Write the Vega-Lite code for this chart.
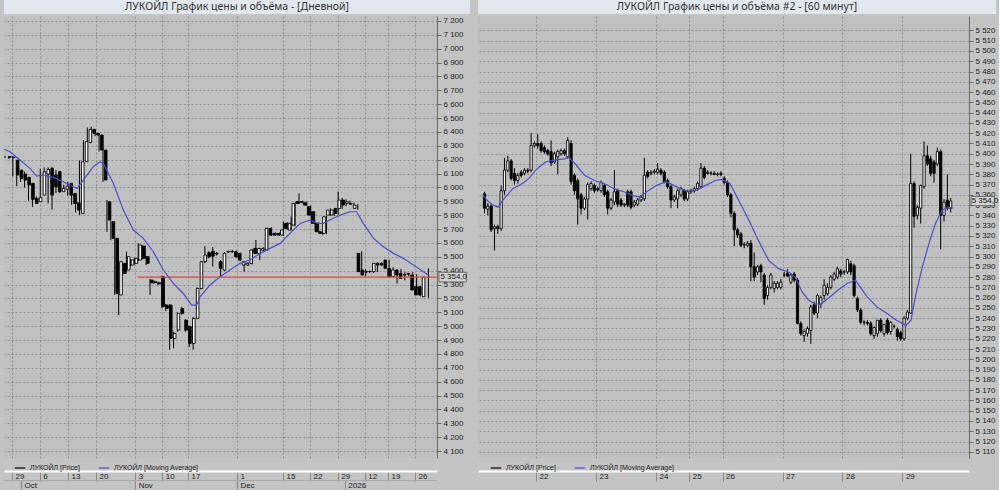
{
  "$schema": "https://vega.github.io/schema/vega-lite/v6.json",
  "padding": {"left": 4, "top": 0, "right": 0, "bottom": 0},
  "background": "#c4c4c4",
  "spacing": 8,
  "resolve": {"scale": {"color": "independent"}, "legend": {"color": "independent"}},
  "config": {
    "view": {"stroke": null},
    "font": "Liberation Sans",
    "axis": {"labelFont": "Liberation Sans", "labelFontSize": 8, "labelColor": "#222222", "gridColor": "#858585", "gridDash": [2, 2], "gridWidth": 0.8, "tickColor": "#666666", "domainColor": "#6a6a6a", "titleFontSize": 8, "tickCount": 200}
  },
  "datasets": {
    "daily": [
      {"i":1,"o":6222,"h":6228,"l":6212,"c":6218},{"i":2,"o":6218,"h":6225,"l":6205,"c":6215},{"i":3,"o":6197,"h":6225,"l":6080,"c":6090},{"i":4,"o":6125,"h":6135,"l":6010,"c":6065},{"i":5,"o":6097,"h":6110,"l":6040,"c":6053},{"i":6,"o":6073,"h":6115,"l":6000,"c":6017},{"i":7,"o":6030,"h":6040,"l":5905,"c":5914},{"i":8,"o":5921,"h":5930,"l":5860,"c":5885},{"i":9,"o":5897,"h":5935,"l":5885,"c":5928},{"i":10,"o":5945,"h":6135,"l":5910,"c":6113},
      {"i":11,"o":6097,"h":6145,"l":6090,"c":6130},{"i":12,"o":6137,"h":6145,"l":5885,"c":5945},{"i":13,"o":6090,"h":6150,"l":5840,"c":6005},{"i":14,"o":6114,"h":6125,"l":5960,"c":5970},{"i":15,"o":5970,"h":6000,"l":5960,"c":5993},{"i":16,"o":5987,"h":6020,"l":5980,"c":6010},{"i":17,"o":6030,"h":6040,"l":5940,"c":5945},{"i":18,"o":5957,"h":5965,"l":5875,"c":5885},{"i":19,"o":5890,"h":5895,"l":5820,"c":5837},{"i":20,"o":5813,"h":6195,"l":5800,"c":6185},
      {"i":21,"o":6186,"h":6342,"l":6180,"c":6330},{"i":22,"o":6323,"h":6433,"l":6320,"c":6419},{"i":23,"o":6419,"h":6438,"l":6385,"c":6390},{"i":24,"o":6390,"h":6400,"l":6370,"c":6378},{"i":25,"o":6378,"h":6385,"l":6260,"c":6270},{"i":26,"o":6270,"h":6275,"l":6040,"c":6054},{"i":27,"o":5897,"h":5910,"l":5680,"c":5765},{"i":28,"o":5753,"h":5760,"l":5620,"c":5633},{"i":29,"o":5633,"h":5640,"l":5225,"c":5237},{"i":30,"o":5225,"h":5475,"l":5080,"c":5465},
      {"i":31,"o":5453,"h":5460,"l":5370,"c":5380},{"i":32,"o":5405,"h":5537,"l":5395,"c":5501},{"i":33,"o":5441,"h":5485,"l":5430,"c":5477},{"i":34,"o":5453,"h":5495,"l":5445,"c":5489},{"i":35,"o":5477,"h":5597,"l":5470,"c":5585},{"i":36,"o":5578,"h":5585,"l":5480,"c":5489},{"i":37,"o":5501,"h":5505,"l":5440,"c":5453},{"i":38,"o":5333,"h":5340,"l":5225,"c":5313},{"i":39,"o":5320,"h":5330,"l":5305,"c":5315},{"i":40,"o":5313,"h":5320,"l":5295,"c":5305},
      {"i":41,"o":5357,"h":5365,"l":5130,"c":5141},{"i":42,"o":5152,"h":5160,"l":5110,"c":5128},{"i":43,"o":5152,"h":5160,"l":4830,"c":4912},{"i":44,"o":4912,"h":4960,"l":4840,"c":4948},{"i":45,"o":4972,"h":5100,"l":4960,"c":5092},{"i":46,"o":5128,"h":5140,"l":5085,"c":5092},{"i":47,"o":5044,"h":5050,"l":4960,"c":4972},{"i":48,"o":4996,"h":5005,"l":4850,"c":4876},{"i":49,"o":4876,"h":5065,"l":4830,"c":5056},{"i":50,"o":5056,"h":5280,"l":5050,"c":5272},
      {"i":51,"o":5272,"h":5470,"l":5265,"c":5465},{"i":52,"o":5465,"h":5577,"l":5455,"c":5513},{"i":53,"o":5530,"h":5540,"l":5490,"c":5500},{"i":54,"o":5540,"h":5570,"l":5430,"c":5505},{"i":55,"o":5525,"h":5535,"l":5510,"c":5520},{"i":56,"o":5465,"h":5475,"l":5357,"c":5417},{"i":57,"o":5405,"h":5535,"l":5400,"c":5525},{"i":58,"o":5537,"h":5545,"l":5528,"c":5535},{"i":59,"o":5537,"h":5550,"l":5530,"c":5540},{"i":60,"o":5537,"h":5545,"l":5495,"c":5500},
      {"i":61,"o":5525,"h":5530,"l":5470,"c":5477},{"i":62,"o":5441,"h":5470,"l":5393,"c":5465},{"i":63,"o":5441,"h":5460,"l":5435,"c":5453},{"i":64,"o":5453,"h":5555,"l":5445,"c":5549},{"i":65,"o":5561,"h":5621,"l":5520,"c":5525},{"i":66,"o":5525,"h":5565,"l":5477,"c":5561},{"i":67,"o":5549,"h":5570,"l":5540,"c":5561},{"i":68,"o":5549,"h":5710,"l":5545,"c":5705},{"i":69,"o":5705,"h":5712,"l":5650,"c":5657},{"i":70,"o":5669,"h":5675,"l":5650,"c":5657},
      {"i":71,"o":5669,"h":5675,"l":5650,"c":5657},{"i":72,"o":5657,"h":5753,"l":5650,"c":5693},{"i":73,"o":5741,"h":5750,"l":5695,"c":5705},{"i":74,"o":5693,"h":5790,"l":5690,"c":5741},{"i":75,"o":5729,"h":5890,"l":5720,"c":5885},{"i":76,"o":5897,"h":5958,"l":5880,"c":5885},{"i":77,"o":5897,"h":5905,"l":5885,"c":5893},{"i":78,"o":5890,"h":5900,"l":5865,"c":5873},{"i":79,"o":5861,"h":5870,"l":5795,"c":5801},{"i":80,"o":5825,"h":5830,"l":5735,"c":5741},
      {"i":81,"o":5741,"h":5748,"l":5675,"c":5681},{"i":82,"o":5681,"h":5690,"l":5657,"c":5669},{"i":83,"o":5669,"h":5795,"l":5665,"c":5789},{"i":84,"o":5801,"h":5849,"l":5795,"c":5837},{"i":85,"o":5801,"h":5845,"l":5795,"c":5837},{"i":86,"o":5849,"h":5970,"l":5805,"c":5813},{"i":87,"o":5849,"h":5925,"l":5845,"c":5909},{"i":88,"o":5909,"h":5915,"l":5865,"c":5873},{"i":89,"o":5885,"h":5905,"l":5875,"c":5897},{"i":90,"o":5885,"h":5890,"l":5870,"c":5880},
      {"i":91,"o":5849,"h":5880,"l":5840,"c":5873},{"i":92,"o":5525,"h":5540,"l":5385,"c":5393},{"i":93,"o":5405,"h":5410,"l":5360,"c":5369},{"i":94,"o":5393,"h":5400,"l":5385,"c":5390},{"i":95,"o":5393,"h":5400,"l":5385,"c":5395},{"i":96,"o":5393,"h":5460,"l":5390,"c":5453},{"i":97,"o":5453,"h":5460,"l":5435,"c":5441},{"i":98,"o":5453,"h":5460,"l":5435,"c":5441},{"i":99,"o":5477,"h":5480,"l":5410,"c":5417},{"i":100,"o":5417,"h":5425,"l":5350,"c":5357},
      {"i":101,"o":5357,"h":5410,"l":5309,"c":5405},{"i":102,"o":5405,"h":5412,"l":5360,"c":5369},{"i":103,"o":5381,"h":5390,"l":5330,"c":5345},{"i":104,"o":5369,"h":5380,"l":5360,"c":5372},{"i":105,"o":5381,"h":5390,"l":5370,"c":5375},{"i":106,"o":5369,"h":5375,"l":5255,"c":5261},{"i":107,"o":5285,"h":5290,"l":5215,"c":5225},{"i":108,"o":5285,"h":5290,"l":5215,"c":5225},{"i":109,"o":5213,"h":5417,"l":5205,"c":5354}
    ],
    "dailyMA": [
      {"i":0.75,"ma":6276},{"i":2.28,"ma":6258},{"i":4.83,"ma":6198},{"i":7.38,"ma":6138},{"i":9.08,"ma":6082},{"i":10.78,"ma":6090},{"i":13.33,"ma":6073},{"i":15.88,"ma":6041},{"i":18.43,"ma":6005},{"i":19.45,"ma":5993},{"i":20.98,"ma":6053},{"i":23.53,"ma":6150},{"i":25.23,"ma":6185},{"i":26.09,"ma":6173},{"i":28.64,"ma":6030},{"i":31.19,"ma":5837},{"i":33.74,"ma":5693},{"i":36.29,"ma":5633},{"i":38.84,"ma":5537},{"i":41.39,"ma":5405},{"i":43.94,"ma":5309},{"i":46.49,"ma":5236},{"i":48.62,"ma":5152},{"i":49.89,"ma":5152},{"i":50.74,"ma":5212},{"i":53.3,"ma":5297},{"i":55.85,"ma":5357},{"i":58.4,"ma":5405},{"i":60.95,"ma":5453},{"i":63.5,"ma":5477},{"i":66.05,"ma":5525},{"i":68.6,"ma":5561},{"i":71.2,"ma":5597},{"i":73.7,"ma":5669},{"i":76.3,"ma":5741},{"i":78.8,"ma":5765},{"i":80.9,"ma":5741},{"i":82.2,"ma":5741},{"i":83.9,"ma":5765},{"i":86.5,"ma":5801},{"i":89.0,"ma":5825},{"i":90.7,"ma":5825},{"i":92.4,"ma":5741},{"i":95.0,"ma":5633},{"i":97.5,"ma":5573},{"i":100.1,"ma":5525},{"i":102.6,"ma":5489},{"i":105.2,"ma":5441},{"i":107.7,"ma":5393},{"i":109.0,"ma":5369}
    ],
    "hourly": [
      {"j":1,"o":5361,"h":5363,"l":5342,"c":5347},{"j":2,"o":5346,"h":5352,"l":5340,"c":5349},{"j":3,"o":5349,"h":5351,"l":5324,"c":5326},{"j":4,"o":5327,"h":5331,"l":5306,"c":5329},{"j":5,"o":5329,"h":5331,"l":5322,"c":5327},{"j":6,"o":5327,"h":5369,"l":5325,"c":5364},{"j":7,"o":5364,"h":5396,"l":5360,"c":5384},{"j":8,"o":5384,"h":5398,"l":5382,"c":5393},{"j":9,"o":5393,"h":5395,"l":5374,"c":5376},{"j":10,"o":5381,"h":5386,"l":5370,"c":5374},
      {"j":11,"o":5374,"h":5381,"l":5371,"c":5379},{"j":12,"o":5382,"h":5384,"l":5377,"c":5379},{"j":13,"o":5381,"h":5386,"l":5379,"c":5384},{"j":14,"o":5384,"h":5386,"l":5381,"c":5383},{"j":15,"o":5384,"h":5420,"l":5382,"c":5408},{"j":16,"o":5408,"h":5412,"l":5406,"c":5410},{"j":17,"o":5410,"h":5419,"l":5405,"c":5408},{"j":18,"o":5410,"h":5412,"l":5401,"c":5403},{"j":19,"o":5406,"h":5408,"l":5400,"c":5402},{"j":20,"o":5403,"h":5405,"l":5398,"c":5400},
      {"j":21,"o":5402,"h":5413,"l":5388,"c":5391},{"j":22,"o":5392,"h":5402,"l":5390,"c":5400},{"j":23,"o":5397,"h":5404,"l":5380,"c":5402},{"j":24,"o":5400,"h":5405,"l":5398,"c":5403},{"j":25,"o":5403,"h":5405,"l":5398,"c":5400},{"j":26,"o":5397,"h":5416,"l":5395,"c":5413},{"j":27,"o":5410,"h":5413,"l":5370,"c":5373},{"j":28,"o":5379,"h":5381,"l":5360,"c":5364},{"j":29,"o":5374,"h":5376,"l":5331,"c":5356},{"j":30,"o":5360,"h":5362,"l":5341,"c":5347},
      {"j":31,"o":5347,"h":5358,"l":5345,"c":5356},{"j":32,"o":5356,"h":5372,"l":5336,"c":5370},{"j":33,"o":5366,"h":5373,"l":5364,"c":5371},{"j":34,"o":5369,"h":5371,"l":5362,"c":5364},{"j":35,"o":5366,"h":5368,"l":5363,"c":5365},{"j":36,"o":5364,"h":5374,"l":5362,"c":5372},{"j":37,"o":5369,"h":5371,"l":5358,"c":5360},{"j":38,"o":5363,"h":5365,"l":5341,"c":5347},{"j":39,"o":5347,"h":5357,"l":5345,"c":5355},{"j":40,"o":5353,"h":5384,"l":5350,"c":5363},
      {"j":41,"o":5364,"h":5366,"l":5348,"c":5351},{"j":42,"o":5355,"h":5357,"l":5348,"c":5350},{"j":43,"o":5350,"h":5352,"l":5348,"c":5351},{"j":44,"o":5363,"h":5365,"l":5348,"c":5350},{"j":45,"o":5363,"h":5365,"l":5346,"c":5348},{"j":46,"o":5350,"h":5355,"l":5348,"c":5353},{"j":47,"o":5351,"h":5357,"l":5349,"c":5355},{"j":48,"o":5355,"h":5360,"l":5353,"c":5358},{"j":49,"o":5356,"h":5396,"l":5354,"c":5379},{"j":50,"o":5382,"h":5384,"l":5376,"c":5378},
      {"j":51,"o":5381,"h":5384,"l":5379,"c":5382},{"j":52,"o":5382,"h":5385,"l":5380,"c":5383},{"j":53,"o":5382,"h":5391,"l":5380,"c":5385},{"j":54,"o":5384,"h":5386,"l":5379,"c":5381},{"j":55,"o":5382,"h":5384,"l":5371,"c":5373},{"j":56,"o":5374,"h":5376,"l":5366,"c":5368},{"j":57,"o":5368,"h":5370,"l":5347,"c":5355},{"j":58,"o":5355,"h":5360,"l":5353,"c":5358},{"j":59,"o":5356,"h":5366,"l":5347,"c":5364},{"j":60,"o":5360,"h":5368,"l":5358,"c":5366},
      {"j":61,"o":5364,"h":5366,"l":5354,"c":5356},{"j":62,"o":5356,"h":5365,"l":5354,"c":5363},{"j":63,"o":5363,"h":5366,"l":5361,"c":5364},{"j":64,"o":5364,"h":5368,"l":5362,"c":5366},{"j":65,"o":5366,"h":5373,"l":5364,"c":5371},{"j":66,"o":5368,"h":5391,"l":5366,"c":5386},{"j":67,"o":5386,"h":5388,"l":5375,"c":5377},{"j":68,"o":5382,"h":5384,"l":5380,"c":5381},{"j":69,"o":5381,"h":5383,"l":5379,"c":5381},{"j":70,"o":5381,"h":5383,"l":5379,"c":5380},
      {"j":71,"o":5380,"h":5382,"l":5378,"c":5380},{"j":72,"o":5381,"h":5383,"l":5378,"c":5380},{"j":73,"o":5376,"h":5378,"l":5370,"c":5372},{"j":74,"o":5372,"h":5374,"l":5358,"c":5360},{"j":75,"o":5360,"h":5362,"l":5338,"c":5342},{"j":76,"o":5342,"h":5344,"l":5310,"c":5326},{"j":77,"o":5326,"h":5328,"l":5318,"c":5321},{"j":78,"o":5322,"h":5324,"l":5309,"c":5311},{"j":79,"o":5311,"h":5314,"l":5308,"c":5312},{"j":80,"o":5311,"h":5315,"l":5309,"c":5313},
      {"j":81,"o":5313,"h":5316,"l":5276,"c":5290},{"j":82,"o":5290,"h":5304,"l":5276,"c":5280},{"j":83,"o":5285,"h":5292,"l":5282,"c":5290},{"j":84,"o":5291,"h":5293,"l":5275,"c":5285},{"j":85,"o":5282,"h":5284,"l":5253,"c":5259},{"j":86,"o":5262,"h":5272,"l":5258,"c":5270},{"j":87,"o":5270,"h":5284,"l":5268,"c":5282},{"j":88,"o":5269,"h":5276,"l":5265,"c":5274},{"j":89,"o":5270,"h":5276,"l":5268,"c":5274},{"j":90,"o":5270,"h":5278,"l":5268,"c":5275},
      {"j":91,"o":5282,"h":5285,"l":5280,"c":5282},{"j":92,"o":5284,"h":5288,"l":5280,"c":5281},{"j":93,"o":5275,"h":5284,"l":5273,"c":5282},{"j":94,"o":5283,"h":5285,"l":5275,"c":5277},{"j":95,"o":5277,"h":5279,"l":5234,"c":5235},{"j":96,"o":5235,"h":5237,"l":5223,"c":5225},{"j":97,"o":5223,"h":5229,"l":5217,"c":5227},{"j":98,"o":5225,"h":5232,"l":5222,"c":5230},{"j":99,"o":5228,"h":5253,"l":5215,"c":5251},{"j":100,"o":5253,"h":5256,"l":5243,"c":5245},
      {"j":101,"o":5245,"h":5264,"l":5240,"c":5262},{"j":102,"o":5254,"h":5262,"l":5250,"c":5260},{"j":103,"o":5262,"h":5278,"l":5258,"c":5272},{"j":104,"o":5264,"h":5274,"l":5262,"c":5270},{"j":105,"o":5270,"h":5282,"l":5268,"c":5280},{"j":106,"o":5278,"h":5285,"l":5276,"c":5283},{"j":107,"o":5280,"h":5290,"l":5278,"c":5288},{"j":108,"o":5286,"h":5288,"l":5280,"c":5283},{"j":109,"o":5285,"h":5287,"l":5282,"c":5285},{"j":110,"o":5285,"h":5298,"l":5283,"c":5297},
      {"j":111,"o":5293,"h":5296,"l":5282,"c":5285},{"j":112,"o":5291,"h":5293,"l":5260,"c":5262},{"j":113,"o":5259,"h":5261,"l":5246,"c":5248},{"j":114,"o":5248,"h":5250,"l":5234,"c":5236},{"j":115,"o":5236,"h":5238,"l":5233,"c":5236},{"j":116,"o":5236,"h":5238,"l":5233,"c":5235},{"j":117,"o":5235,"h":5237,"l":5223,"c":5225},{"j":118,"o":5223,"h":5232,"l":5220,"c":5231},{"j":119,"o":5225,"h":5238,"l":5222,"c":5238},{"j":120,"o":5238,"h":5240,"l":5226,"c":5228},
      {"j":121,"o":5225,"h":5234,"l":5222,"c":5234},{"j":122,"o":5238,"h":5240,"l":5224,"c":5226},{"j":123,"o":5227,"h":5237,"l":5224,"c":5236},{"j":124,"o":5232,"h":5234,"l":5230,"c":5232},{"j":125,"o":5229,"h":5231,"l":5218,"c":5222},{"j":126,"o":5226,"h":5228,"l":5218,"c":5220},{"j":127,"o":5220,"h":5242,"l":5218,"c":5240},{"j":128,"o":5240,"h":5248,"l":5238,"c":5246},{"j":129,"o":5245,"h":5400,"l":5244,"c":5371},{"j":130,"o":5371,"h":5373,"l":5328,"c":5339},
      {"j":131,"o":5340,"h":5350,"l":5336,"c":5348},{"j":132,"o":5347,"h":5370,"l":5332,"c":5369},{"j":133,"o":5368,"h":5412,"l":5366,"c":5398},{"j":134,"o":5398,"h":5408,"l":5388,"c":5390},{"j":135,"o":5395,"h":5398,"l":5378,"c":5381},{"j":136,"o":5392,"h":5394,"l":5372,"c":5381},{"j":137,"o":5390,"h":5406,"l":5388,"c":5402},{"j":138,"o":5402,"h":5404,"l":5307,"c":5340},{"j":139,"o":5340,"h":5356,"l":5334,"c":5353},{"j":140,"o":5355,"h":5380,"l":5345,"c":5347},
      {"j":141,"o":5347,"h":5357,"l":5343,"c":5354}
    ],
    "hourlyMA": [
      {"j":0.55,"ma":5360},{"j":1.64,"ma":5355},{"j":3.6,"ma":5350},{"j":5.07,"ma":5348},{"j":6.54,"ma":5355},{"j":9.48,"ma":5366},{"j":12.42,"ma":5371},{"j":14.38,"ma":5376},{"j":16.34,"ma":5384},{"j":19.28,"ma":5392},{"j":22.23,"ma":5394},{"j":25.17,"ma":5395},{"j":26.15,"ma":5397},{"j":28.3,"ma":5390},{"j":31.05,"ma":5379},{"j":34.0,"ma":5374},{"j":36.9,"ma":5371},{"j":39.9,"ma":5366},{"j":42.8,"ma":5363},{"j":45.75,"ma":5359},{"j":47.7,"ma":5358},{"j":49.7,"ma":5363},{"j":52.6,"ma":5369},{"j":55.6,"ma":5373},{"j":58.5,"ma":5368},{"j":61.4,"ma":5364},{"j":64.4,"ma":5364},{"j":67.3,"ma":5369},{"j":70.3,"ma":5374},{"j":72.2,"ma":5375},{"j":74.7,"ma":5371},{"j":77.6,"ma":5353},{"j":80.6,"ma":5334},{"j":83.5,"ma":5314},{"j":86.4,"ma":5296},{"j":89.4,"ma":5288},{"j":92.3,"ma":5285},{"j":94.3,"ma":5280},{"j":96.3,"ma":5266},{"j":98.2,"ma":5258},{"j":100.2,"ma":5254},{"j":102.1,"ma":5254},{"j":104.1,"ma":5259},{"j":107.0,"ma":5267},{"j":110.0,"ma":5274},{"j":112.4,"ma":5277},{"j":113.9,"ma":5270},{"j":115.9,"ma":5261},{"j":118.8,"ma":5251},{"j":121.7,"ma":5245},{"j":124.7,"ma":5238},{"j":127.6,"ma":5233},{"j":129.1,"ma":5238},{"j":130.6,"ma":5264},{"j":132.5,"ma":5290},{"j":134.5,"ma":5313},{"j":136.4,"ma":5332},{"j":138.4,"ma":5345},{"j":140.4,"ma":5348},{"j":141.8,"ma":5347}
    ]
  },
  "hconcat": [
    {
      "vconcat": [
        {
          "width": 466, "height": 14,
          "view": {"fill": "#e2e8f0", "stroke": null},
          "data": {"values": [{"t": "ЛУКОЙЛ График цены и объёма - [Дневной]"}]},
          "mark": {"type": "text", "font": "Noto Sans", "fontSize": 10.5, "color": "#333333"},
          "encoding": {"text": {"field": "t"}}
        },
        {
          "width": 433, "height": 442,
          "view": {"fill": "#c0c0c0", "stroke": null},
          "resolve": {"scale": {"x": "independent"}, "axis": {"x": "independent"}},
          "layer": [
            {
              "data": {"name": "daily"},
              "mark": {"type": "rule", "strokeWidth": 1},
              "encoding": {
                "x": {"field": "i", "type": "quantitative", "scale": {"domain": [0.75, 111.2], "nice": false, "zero": false},
                  "axis": {"orient": "bottom", "offset": 13, "title": null, "tickCount": 200, "values": [2.8, 9.9, 17.1, 24.2, 34.2, 41.1, 47.7, 60.2, 71.9, 78.8, 85.9, 92.8, 98.7, 105.6],
                    "labelExpr": "['29','6','13','20','3','10','17','1','15','22','29','12','19','26'][indexof([2.8,9.9,17.1,24.2,34.2,41.1,47.7,60.2,71.9,78.8,85.9,92.8,98.7,105.6], datum.value)]",
                    "domainColor": "#ffffff", "domainWidth": 2, "tickSize": 10, "tickColor": "#8a8a8a", "labelAlign": "left", "labelBaseline": "top", "labelPadding": -9, "labelOffset": 3,
                    "labelOverlap": false, "labelFlush": false, "grid": true}},
                "y": {"field": "l", "type": "quantitative", "scale": {"domain": [4050, 7236], "nice": false, "zero": false},
                  "axis": {"orient": "right", "title": null, "tickCount": 200, "values": [4100,4200,4300,4400,4500,4600,4700,4800,4900,5000,5100,5200,5300,5400,5500,5600,5700,5800,5900,6000,6100,6200,6300,6400,6500,6600,6700,6800,6900,7000,7100,7200],
                    "labelExpr": "replace(format(datum.value, ','), ',', ' ')", "tickSize": 4, "labelPadding": 2, "grid": true, "labelOverlap": false}},
                "y2": {"field": "h"},
                "color": {"datum": "ЛУКОЙЛ [Price]", "scale": {"domain": ["ЛУКОЙЛ [Price]", "ЛУКОЙЛ [Moving Average]"], "range": ["#000000", "#4d4dcc"]},
                  "legend": {"orient": "none", "legendX": 10, "legendY": 446, "direction": "horizontal", "title": null, "symbolType": "stroke", "symbolSize": 110, "symbolStrokeWidth": 1.2, "labelFontSize": 7, "labelFont": "Liberation Sans", "labelColor": "#222222", "columnPadding": 16, "padding": 0}}
              }
            },
            {
              "data": {"name": "daily"},
              "mark": {"type": "bar", "width": 2.6, "stroke": "#000000", "strokeWidth": 0.9},
              "encoding": {
                "x": {"field": "i", "type": "quantitative", "scale": {"domain": [0.75, 111.2], "nice": false, "zero": false}, "axis": null},
                "y": {"field": "o", "type": "quantitative", "scale": {"domain": [4050, 7236], "nice": false, "zero": false}},
                "y2": {"field": "c"},
                "fill": {"condition": {"test": "datum.c >= datum.o", "value": "#ffffff"}, "value": "#000000"}
              }
            },
            {
              "data": {"values": [{"p": 5354, "a": 34.9, "b": 111.2}]},
              "mark": {"type": "rule", "color": "#e0483c", "strokeWidth": 1.3},
              "encoding": {
                "x": {"field": "a", "type": "quantitative", "scale": {"domain": [0.75, 111.2], "nice": false, "zero": false}, "axis": null},
                "x2": {"field": "b"},
                "y": {"field": "p", "type": "quantitative", "scale": {"domain": [4050, 7236], "nice": false, "zero": false}}
              }
            },
            {
              "data": {"name": "dailyMA"},
              "mark": {"type": "line", "strokeWidth": 1.2, "clip": true},
              "encoding": {
                "x": {"field": "i", "type": "quantitative", "scale": {"domain": [0.75, 111.2], "nice": false, "zero": false},
                  "axis": {"orient": "bottom", "offset": 22, "title": null, "tickCount": 200, "values": [5.1, 34.2, 60.2, 87.7],
                    "labelExpr": "['Oct','Nov','Dec','2026'][indexof([5.1,34.2,60.2,87.7], datum.value)]",
                    "domainColor": "#a9a9a9", "domainWidth": 1, "tickSize": 9, "tickColor": "#8a8a8a", "labelAlign": "left", "labelBaseline": "top", "labelPadding": -8, "labelOffset": 3,
                    "labelOverlap": false, "labelFlush": false, "grid": false}},
                "y": {"field": "ma", "type": "quantitative", "scale": {"domain": [4050, 7236], "nice": false, "zero": false}},
                "color": {"datum": "ЛУКОЙЛ [Moving Average]", "scale": {"domain": ["ЛУКОЙЛ [Price]", "ЛУКОЙЛ [Moving Average]"], "range": ["#000000", "#4d4dcc"]},
                  "legend": {"orient": "none", "legendX": 10, "legendY": 446, "direction": "horizontal", "title": null, "symbolType": "stroke", "symbolSize": 110, "symbolStrokeWidth": 1.2, "labelFontSize": 7, "labelFont": "Liberation Sans", "labelColor": "#222222", "columnPadding": 16, "padding": 0}}
              }
            },
            {
              "data": {"values": [{"p": 5354, "i": 109, "t": "5 354,0"}]},
              "layer": [
                {
                  "mark": {"type": "point", "shape": "M0.53,-0.24H1.9V0.24H0.53Z", "size": 1600, "filled": true, "fill": "#d2d2d2", "stroke": "#555555", "strokeWidth": 0.8, "opacity": 1}
                },
                {
                  "mark": {"type": "text", "align": "left", "dx": 12, "fontSize": 8, "font": "Liberation Sans", "color": "#111111"},
                  "encoding": {"text": {"field": "t"}}
                }
              ],
              "encoding": {
                "x": {"field": "i", "type": "quantitative", "scale": {"domain": [0.75, 111.2], "nice": false, "zero": false}, "axis": null},
                "y": {"field": "p", "type": "quantitative", "scale": {"domain": [4050, 7236], "nice": false, "zero": false}}
              }
            }
          ]
        }
      ],
      "spacing": 2,
      "bounds": "flush",
      "resolve": {"scale": {"color": "independent"}, "legend": {"color": "independent"}}
    },
    {
      "vconcat": [
        {
          "width": 518, "height": 14,
          "view": {"fill": "#e2e8f0", "stroke": null},
          "data": {"values": [{"t": "ЛУКОЙЛ График цены и объёма #2 - [60 минут]"}]},
          "mark": {"type": "text", "font": "Noto Sans", "fontSize": 10.5, "color": "#333333"},
          "encoding": {"text": {"field": "t"}}
        },
        {
          "width": 491, "height": 442,
          "view": {"fill": "#c0c0c0", "stroke": null},
          "layer": [
            {
              "data": {"name": "hourly"},
              "mark": {"type": "rule", "strokeWidth": 1},
              "encoding": {
                "x": {"field": "j", "type": "quantitative", "scale": {"domain": [0.55, 145], "nice": false, "zero": false},
                  "axis": {"orient": "bottom", "offset": 13, "title": null, "tickCount": 200, "values": [16.5, 34.5, 52.5, 62.5, 72.5, 90.5, 108.5, 126.5],
                    "labelExpr": "['22','23','24','25','26','27','28','29'][indexof([16.5,34.5,52.5,62.5,72.5,90.5,108.5,126.5], datum.value)]",
                    "domainColor": "#ffffff", "domainWidth": 2, "tickSize": 10, "tickColor": "#8a8a8a", "labelAlign": "left", "labelBaseline": "top", "labelPadding": -9, "labelOffset": 3,
                    "labelOverlap": false, "labelFlush": false, "grid": true}},
                "y": {"field": "l", "type": "quantitative", "scale": {"domain": [5104, 5534], "nice": false, "zero": false},
                  "axis": {"orient": "right", "title": null, "tickCount": 200, "values": [5110,5120,5130,5140,5150,5160,5170,5180,5190,5200,5210,5220,5230,5240,5250,5260,5270,5280,5290,5300,5310,5320,5330,5340,5350,5360,5370,5380,5390,5400,5410,5420,5430,5440,5450,5460,5470,5480,5490,5500,5510,5520],
                    "labelExpr": "replace(format(datum.value, ','), ',', ' ')", "tickSize": 4, "labelPadding": 2, "grid": true, "labelOverlap": false}},
                "y2": {"field": "h"},
                "color": {"datum": "ЛУКОЙЛ [Price]", "scale": {"domain": ["ЛУКОЙЛ [Price]", "ЛУКОЙЛ [Moving Average]"], "range": ["#000000", "#4d4dcc"]},
                  "legend": {"orient": "none", "legendX": 12, "legendY": 446, "direction": "horizontal", "title": null, "symbolType": "stroke", "symbolSize": 110, "symbolStrokeWidth": 1.2, "labelFontSize": 7, "labelFont": "Liberation Sans", "labelColor": "#222222", "columnPadding": 16, "padding": 0}}
              }
            },
            {
              "data": {"name": "hourly"},
              "mark": {"type": "bar", "width": 2.2, "stroke": "#000000", "strokeWidth": 0.9},
              "encoding": {
                "x": {"field": "j", "type": "quantitative", "scale": {"domain": [0.55, 145], "nice": false, "zero": false}},
                "y": {"field": "o", "type": "quantitative", "scale": {"domain": [5104, 5534], "nice": false, "zero": false}},
                "y2": {"field": "c"},
                "fill": {"condition": {"test": "datum.c >= datum.o", "value": "#ffffff"}, "value": "#000000"}
              }
            },
            {
              "data": {"name": "hourlyMA"},
              "mark": {"type": "line", "strokeWidth": 1.2, "clip": true},
              "encoding": {
                "x": {"field": "j", "type": "quantitative", "scale": {"domain": [0.55, 145], "nice": false, "zero": false}},
                "y": {"field": "ma", "type": "quantitative", "scale": {"domain": [5104, 5534], "nice": false, "zero": false}},
                "color": {"datum": "ЛУКОЙЛ [Moving Average]", "scale": {"domain": ["ЛУКОЙЛ [Price]", "ЛУКОЙЛ [Moving Average]"], "range": ["#000000", "#4d4dcc"]},
                  "legend": {"orient": "none", "legendX": 12, "legendY": 446, "direction": "horizontal", "title": null, "symbolType": "stroke", "symbolSize": 110, "symbolStrokeWidth": 1.2, "labelFontSize": 7, "labelFont": "Liberation Sans", "labelColor": "#222222", "columnPadding": 16, "padding": 0}}
              }
            },
            {
              "data": {"values": [{"p": 5354, "j": 141, "t": "5 354,0"}]},
              "layer": [
                {
                  "mark": {"type": "point", "shape": "M0.93,-0.21H1.99V0.21H0.93Z", "size": 1936, "filled": true, "fill": "#d2d2d2", "stroke": "#555555", "strokeWidth": 0.8, "opacity": 1}
                },
                {
                  "mark": {"type": "text", "align": "left", "dx": 21, "fontSize": 8, "font": "Liberation Sans", "color": "#111111"},
                  "encoding": {"text": {"field": "t"}}
                }
              ],
              "encoding": {
                "x": {"field": "j", "type": "quantitative", "scale": {"domain": [0.55, 145], "nice": false, "zero": false}},
                "y": {"field": "p", "type": "quantitative", "scale": {"domain": [5104, 5534], "nice": false, "zero": false}}
              }
            }
          ]
        }
      ],
      "spacing": 2,
      "bounds": "flush",
      "resolve": {"scale": {"color": "independent"}, "legend": {"color": "independent"}}
    }
  ]
}
